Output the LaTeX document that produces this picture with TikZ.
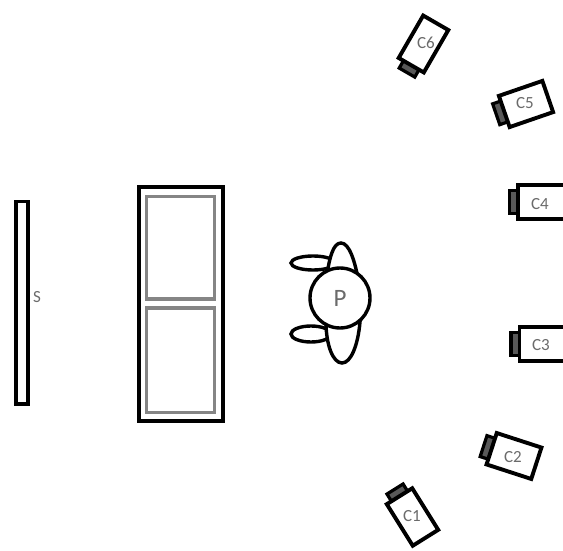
\documentclass[tikz,border=0pt]{standalone}
\usepackage{fontspec}
\setmainfont{Carlito}
\definecolor{lab}{gray}{0.42}
\tikzset{
  x=1pt,y=1pt,
  heavy/.style={draw=black,line width=3.9pt,fill=white,line join=miter},
  panel/.style={draw=black!48,line width=3.8pt,fill=white},
  lens/.style={draw=black,line width=3.2pt,fill=black!65},
  tag/.style={text=lab,font=\fontsize{17}{17}\selectfont,inner sep=0pt},
  limb/.style={draw=black,line width=3.4pt,fill=white},
  pics/cam/.style n args={2}{code={
    \draw[lens] (-#1/2-8.5,-#2/2+5.5) rectangle (-#1/2+1,#2/2-5.5);
    \draw[heavy] (-#1/2,-#2/2) rectangle (#1/2,#2/2);
  }}
}
\begin{document}
\begin{tikzpicture}
\useasboundingbox (0,0) rectangle (563,550);
% screen
\draw[heavy] (15.7,146) rectangle (27.6,348.5);
\node[tag] (S) at (37,252.5) {S};
% door
\draw[heavy,line width=4.4pt] (138.7,129.3) rectangle (223,363);
\draw[panel] (146.5,137.5) rectangle (214.5,241.8);
\draw[panel] (146.5,250.8) rectangle (214.5,353.5);
% person
\draw[limb] (313,287) ellipse [x radius=22,y radius=7];
\draw[limb] (311,216) ellipse [x radius=20,y radius=8];
\draw[limb] (326,268) .. controls (329,292) and (333,307) .. (341,307) .. controls (349,307) and (355,290) .. (359,266) -- cycle;
\draw[limb] (326,228) .. controls (326,205) and (333,187) .. (342,187) .. controls (351,187) and (358,205) .. (360,228) -- cycle;
\node[circle,draw=black,line width=3.4pt,fill=white,minimum size=60pt,inner sep=0pt,text=lab,font=\fontsize{25}{25}\selectfont] (P) at (340,252) {P};
% cameras
\pic[rotate=60] at (423.5,506) {cam={49}{29}};
\node[tag] (C6) at (426,507) {C6};
\pic[rotate=19] at (526,446) {cam={46}{33}};
\node[tag] (C5) at (525,447) {C5};
\pic at (546.5,348) {cam={57}{34}};
\node[tag] (C4) at (540,346) {C4};
\pic at (548,206) {cam={57}{34}};
\node[tag] (C3) at (541,205) {C3};
\pic[rotate=-18] at (514,94) {cam={47}{33}};
\node[tag] (C2) at (513,93) {C2};
\pic[rotate=-58] at (412.5,33) {cam={49}{30}};
\node[tag] (C1) at (412,34) {C1};
\end{tikzpicture}
\end{document}
